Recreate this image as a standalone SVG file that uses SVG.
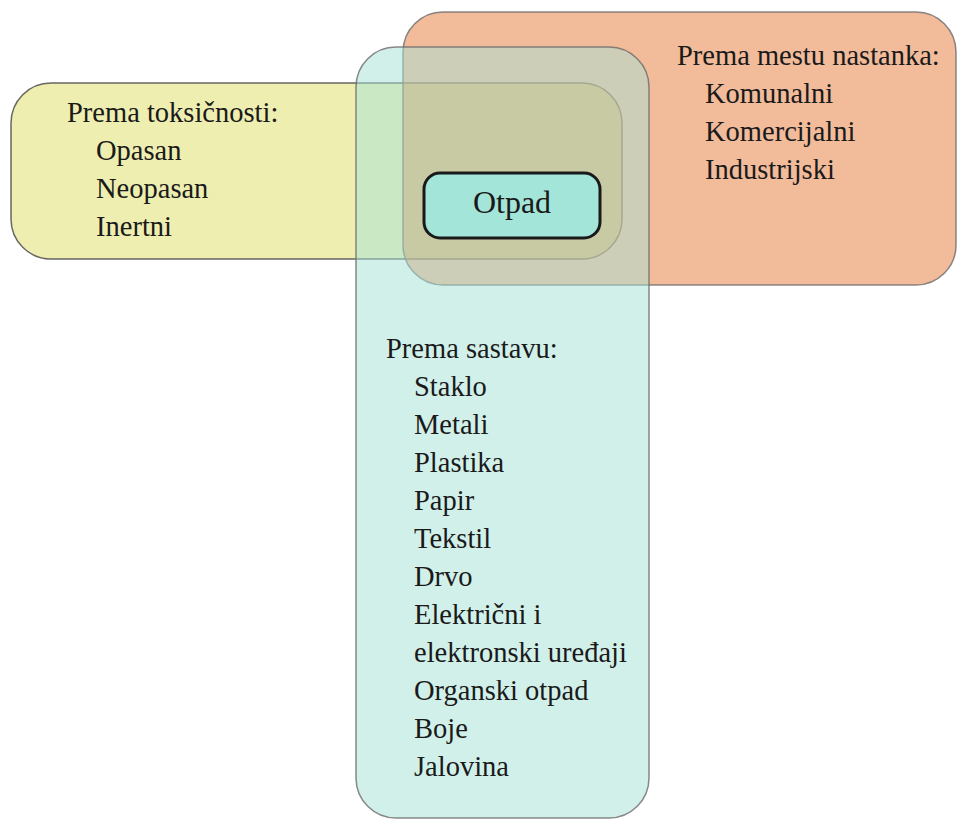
<svg xmlns="http://www.w3.org/2000/svg" width="957" height="819" viewBox="0 0 957 819">
  <style>
    .grp { stroke-width: 1.5; }
    .lbl { font-family: "Liberation Serif", "Times New Roman", serif; font-size: 28.5px; fill: #1a1a1a; }
    .core { font-family: "Liberation Serif", "Times New Roman", serif; font-size: 32px; fill: #1a1a1a; text-anchor: middle; }
  </style>
  <rect width="957" height="819" fill="#ffffff"/>

  <!-- Category: toxicity -->
  <g id="toksicnost">
    <rect class="grp" x="11" y="83" width="611" height="176" rx="40" ry="40" fill="#DEDE62" fill-opacity="0.5" stroke="#4d4d4d" stroke-opacity="0.85"/>
    <text class="lbl" x="67" y="122">Prema toksičnosti:</text>
    <text class="lbl" x="96" y="160">Opasan</text>
    <text class="lbl" x="96" y="198">Neopasan</text>
    <text class="lbl" x="96" y="236">Inertni</text>
  </g>

  <!-- Category: place of origin -->
  <g id="mesto-nastanka">
    <rect class="grp" x="403" y="12" width="553" height="273" rx="40" ry="40" fill="#E57835" fill-opacity="0.5" stroke="#6b6b6b" stroke-opacity="0.8"/>
    <text class="lbl" x="677" y="65">Prema mestu nastanka:</text>
    <text class="lbl" x="705" y="103">Komunalni</text>
    <text class="lbl" x="705" y="141">Komercijalni</text>
    <text class="lbl" x="705" y="179">Industrijski</text>
  </g>

  <!-- Category: composition -->
  <g id="sastav">
    <rect class="grp" x="356" y="47" width="293" height="771" rx="40" ry="40" fill="#A5E1D5" fill-opacity="0.5" stroke="#6b6b6b" stroke-opacity="0.8"/>
    <text class="lbl" x="386" y="358">Prema sastavu:</text>
    <text class="lbl" x="414" y="396">Staklo</text>
    <text class="lbl" x="414" y="434">Metali</text>
    <text class="lbl" x="414" y="472">Plastika</text>
    <text class="lbl" x="414" y="510">Papir</text>
    <text class="lbl" x="414" y="548">Tekstil</text>
    <text class="lbl" x="414" y="586">Drvo</text>
    <text class="lbl" x="414" y="624">Električni i</text>
    <text class="lbl" x="414" y="662">elektronski uređaji</text>
    <text class="lbl" x="414" y="700">Organski otpad</text>
    <text class="lbl" x="414" y="738">Boje</text>
    <text class="lbl" x="414" y="776">Jalovina</text>
  </g>

  <!-- Central node -->
  <g id="otpad">
    <rect x="424" y="173" width="176" height="65" rx="16" ry="16" fill="#A3E5D8" stroke="#1a1a1a" stroke-width="3"/>
    <text class="core" x="512" y="213">Otpad</text>
  </g>

  <g id="connectors"></g>
</svg>
